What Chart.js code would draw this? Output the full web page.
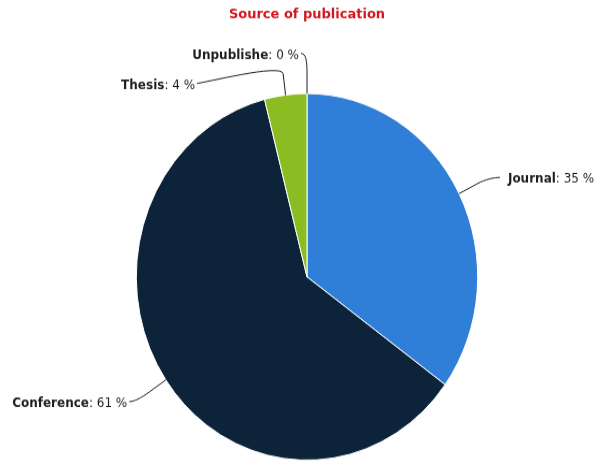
<!DOCTYPE html>
<html>
<head>
<meta charset="utf-8">
<title>Source of publication</title>
<script src="https://cdn.jsdelivr.net/npm/chart.js@4/dist/chart.umd.min.js"></script>
<style>
  html, body { margin: 0; padding: 0; background: #fff; overflow: hidden; }
  #wrap { width: 604px; height: 465px; }
  /* drawn at 433px high, then stretched to fill the 465px frame */
  #pubChart { display: block; transform: scaleY(1.0739); transform-origin: 0 0; }
</style>
</head>
<body>
<div id="wrap">
  <canvas id="pubChart" width="604" height="433" style="width:604px;height:433px"></canvas>
</div>
<script>
// ============ Data ============
const categories = ['Journal', 'Conference', 'Thesis', 'Unpublishe'];
const shares = [35, 61, 4, 0];
const sliceColors = ['#2f7ed8', '#0d233a', '#8bbc21', '#910000'];

const FONT = '"DejaVu Sans", Verdana, sans-serif';

// ============ Slice labels with soft connectors ============
const sliceLabels = {
    id: 'sliceLabels',
    afterDatasetsDraw(chart, args, opts) {
        const ctx = chart.ctx;
        const arcs = chart.getDatasetMeta(0).data;
        ctx.save();
        arcs.forEach((arc, i) => {
            const { x, y, startAngle, endAngle, outerRadius } =
                arc.getProps(['x', 'y', 'startAngle', 'endAngle', 'outerRadius'], true);
            const mid = (startAngle + endAngle) / 2;
            const cos = Math.cos(mid), sin = Math.sin(mid);
            const edge = { x: x + cos * outerRadius, y: y + sin * outerRadius };
            const bendR = outerRadius + opts.bendDistance;
            const bend = { x: x + cos * bendR, y: y + sin * bendR };
            const [dx, dy] = opts.offsets[i];
            const end = { x: bend.x + dx, y: bend.y + dy };
            const right = dx > 0;
            const dir = right ? 1 : -1;

            // connector: label -> bend (curved) -> slice edge
            ctx.beginPath();
            ctx.moveTo(end.x, end.y);
            ctx.bezierCurveTo(
                end.x - dir * 5, end.y,
                bend.x + (bend.x - edge.x) * 0.5, bend.y + (bend.y - edge.y) * 0.5,
                bend.x, bend.y
            );
            ctx.lineTo(edge.x, edge.y);
            ctx.strokeStyle = opts.lineColor;
            ctx.lineWidth = 1;
            ctx.stroke();

            // "Name: NN %" with the name in bold
            const name = categories[i];
            const rest = `: ${shares[i]} %`;
            const boldFont = `bold ${opts.fontSize}px ${FONT}`;
            const plainFont = `${opts.fontSize}px ${FONT}`;
            ctx.font = boldFont;
            const w1 = ctx.measureText(name).width;
            ctx.font = plainFont;
            const w2 = ctx.measureText(rest).width;
            const tx = right ? end.x + opts.gapRight : end.x - opts.gapLeft - w1 - w2;
            const ty = end.y + opts.textDrop;
            ctx.textBaseline = 'middle';
            ctx.textAlign = 'left';
            ctx.fillStyle = opts.textColor;
            ctx.font = boldFont;
            ctx.fillText(name, tx, ty);
            ctx.font = plainFont;
            ctx.fillText(rest, tx + w1, ty);
        });
        ctx.restore();
    }
};

// ============ Chart ============
new Chart(document.getElementById('pubChart').getContext('2d'), {
    type: 'pie',
    data: {
        labels: categories,
        datasets: [{
            data: shares,
            backgroundColor: sliceColors,
            borderColor: '#ffffff',
            borderWidth: 1
        }]
    },
    options: {
        responsive: false,
        animation: false,
        layout: { padding: { top: 0, bottom: 4, left: 100, right: 90 } },
        plugins: {
            legend: { display: false },
            tooltip: { enabled: false },
            title: {
                display: true,
                text: 'Source of publication',
                color: '#d2161e',
                font: { family: FONT, size: 13, weight: 'bold' },
                padding: { top: 6, bottom: 65 }
            },
            sliceLabels: {
                bendDistance: 20,
                offsets: [[23, -6], [-20, 9], [-86, 9], [-6, -17.4]],
                gapLeft: 2,
                gapRight: 8,
                textDrop: 2,
                fontSize: 12,
                textColor: '#1e1e1e',
                lineColor: '#1e1e1e'
            }
        }
    },
    plugins: [sliceLabels]
});
</script>
</body>
</html>
